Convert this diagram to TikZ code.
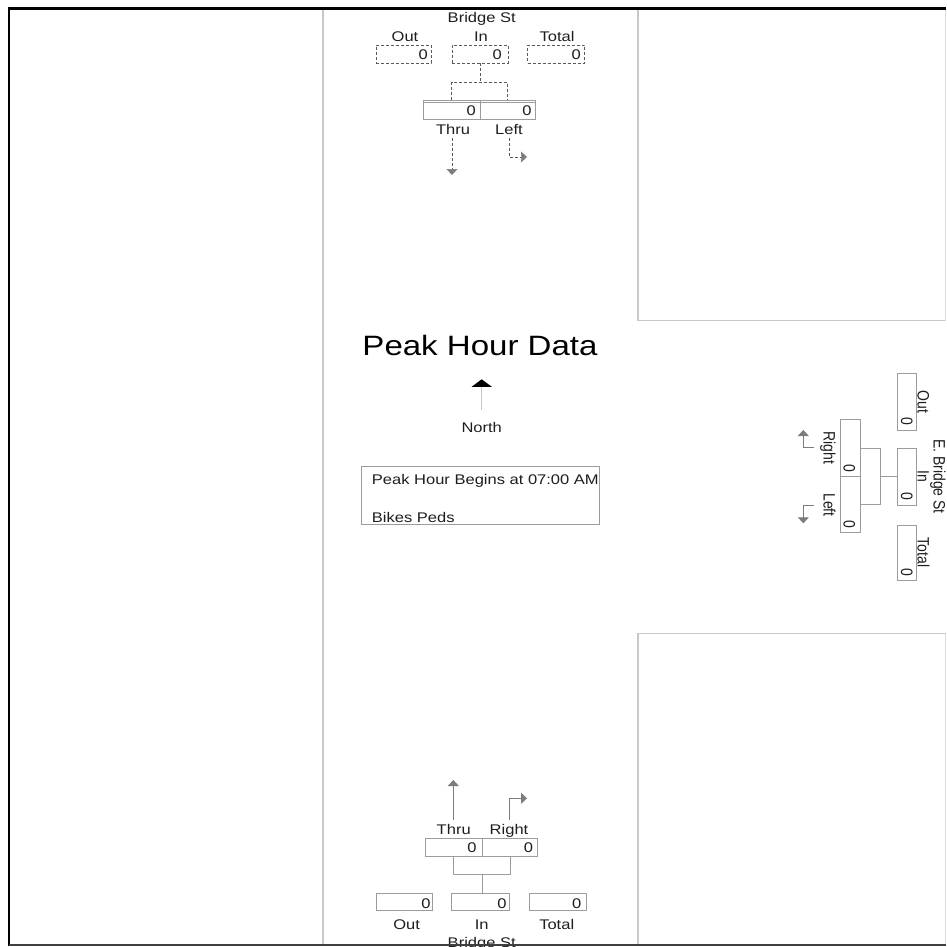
\documentclass[tikz,border=0pt]{standalone}
\usepackage{fontspec}
\setmainfont{Liberation Sans}
\usetikzlibrary{arrows.meta}
\definecolor{roadgray}{HTML}{C8C8C8}
\definecolor{boxgray}{HTML}{9C9C9C}
\definecolor{dashgray}{HTML}{5A5A5A}
\definecolor{arrgray}{HTML}{7C7C7C}
\definecolor{txtcol}{HTML}{1E1E1E}
\begin{document}
\begin{tikzpicture}[x=1pt,y=-1pt,
  lbl/.style={font=\fontsize{14}{16}\selectfont, text=txtcol, inner sep=0pt, xscale=1.18},
  ttl/.style={font=\fontsize{28}{32}\selectfont, text=black, inner sep=0pt, xscale=1.18},
  road/.style={draw=roadgray, line width=1.5pt},
  gbox/.style={draw=boxgray, line width=0.9pt, inner sep=0pt, fill=white},
  dbox/.style={draw=dashgray, line width=0.7pt, dash pattern=on 3pt off 2pt, inner sep=0pt},
  conn/.style={draw=boxgray, line width=0.9pt},
  dconn/.style={draw=dashgray, line width=0.7pt, dash pattern=on 3pt off 2pt},
  arr/.style={draw=arrgray, line width=0.9pt, -{Triangle[width=11pt,length=6pt,color=arrgray]}},
  darr/.style={dconn, -{Triangle[width=11pt,length=6pt,color=arrgray]}}
]
\useasboundingbox (0,0) rectangle (946,947);

% road edges
\draw[road] (323,9) -- (323,945);
\draw[road] (638,9) -- (638,320.5) -- (946,320.5);
\draw[road] (946,633.5) -- (638,633.5) -- (638,945);
\draw[draw=roadgray!60, line width=1pt] (945,9) -- (945,320.5);
\draw[draw=roadgray!60, line width=1pt] (945,633.5) -- (945,945);

% ---------------- North leg ----------------
\node[lbl, anchor=base] (nName) at (481.7,22.7) {Bridge St};
\node[lbl, anchor=base] (nOutL) at (405,41.7) {Out};
\node[lbl, anchor=base] (nInL) at (481,41.7) {In};
\node[lbl, anchor=base] (nTotL) at (557,41.7) {Total};
\node[dbox, minimum width=55pt, minimum height=18pt] (nOut) at (403.5,54) {};
\node[dbox, minimum width=56pt, minimum height=18pt] (nIn) at (480,54) {};
\node[dbox, minimum width=57pt, minimum height=18pt] (nTot) at (556,54) {};
\node[lbl, anchor=base east] (nOutV) at (428,59.3) {0};
\node[lbl, anchor=base east] (nInV) at (502,59.3) {0};
\node[lbl, anchor=base east] (nTotV) at (581,59.3) {0};
\node[gbox, minimum width=57pt, minimum height=19pt] (nThru) at (451.5,110) {};
\node[gbox, minimum width=55pt, minimum height=19pt] (nLeft) at (507.5,110) {};
\draw[conn] ([yshift=-2.5pt]nThru.north west) -- ([yshift=-2.5pt]nLeft.north east);
\node[lbl, anchor=base east] (nThruV) at (476,116) {0};
\node[lbl, anchor=base east] (nLeftV) at (531.7,116) {0};
\coordinate (nj) at (480,82.5);
\draw[dconn] (nIn.south) -- (nj);
\draw[dconn] (nThru.north) |- (nj) -| (nLeft.north);
\node[lbl, anchor=base] (nThruL) at (453,135) {Thru};
\node[lbl, anchor=base] (nLeftL) at (509,135) {Left};
\coordinate (nThruTip) at (452,175);
\coordinate (nLeftTip) at (527,157);
\draw[darr] ([yshift=-3pt]nThruL.south -| nThruTip) -- (nThruTip);
\draw[darr] ([yshift=-3pt]nLeftL.south) |- (nLeftTip);

% ---------------- South leg ----------------
\coordinate (sThruTip) at (453.3,780);
\coordinate (sRightTip) at (527,798.3);
\node[lbl, anchor=base] (sThruL) at (453.7,834) {Thru};
\node[lbl, anchor=base] (sRightL) at (509,834) {Right};
\draw[arr] ([yshift=4pt]sThruL.north -| sThruTip) -- (sThruTip);
\draw[arr] ([yshift=4pt]sRightL.north) |- (sRightTip);
\node[gbox, minimum width=57.7pt, minimum height=18pt] (sThru) at (453.8,847) {};
\node[gbox, minimum width=55pt, minimum height=18pt] (sRight) at (510.2,847) {};
\node[lbl, anchor=base east] (sThruV) at (476.7,852.3) {0};
\node[lbl, anchor=base east] (sRightV) at (533.3,852.3) {0};
\node[gbox, minimum width=56.7pt, minimum height=17.4pt] (sOut) at (404.3,902) {};
\node[gbox, minimum width=57.6pt, minimum height=17.4pt] (sIn) at (480.5,902) {};
\node[gbox, minimum width=57.4pt, minimum height=17.4pt] (sTot) at (558,902) {};
\coordinate (sj) at (482,874);
\draw[conn] (sThru.south) |- (sj) -| (sRight.south);
\draw[conn] (sj) -- (sIn.north -| sj);
\node[lbl, anchor=base east] (sOutV) at (430.7,908.3) {0};
\node[lbl, anchor=base east] (sInV) at (506.7,908.3) {0};
\node[lbl, anchor=base east] (sTotV) at (581.5,908.3) {0};
\node[lbl, anchor=base] (sOutL) at (406.7,929.3) {Out};
\node[lbl, anchor=base] (sInL) at (481.7,929.3) {In};
\node[lbl, anchor=base] (sTotL) at (556.7,929.3) {Total};
\node[lbl, anchor=base] (sName) at (481.7,947.5) {Bridge St};

% ---------------- East leg ----------------
\node[gbox, minimum width=19.4pt, minimum height=56.7pt] (eOut) at (907,401.7) {};
\node[gbox, minimum width=19.4pt, minimum height=57pt] (eIn) at (907,476.5) {};
\node[gbox, minimum width=19.4pt, minimum height=55pt] (eTot) at (907,552.5) {};
\node[lbl, rotate=-90, anchor=base east] (eOutV) at (901,425.5) {0};
\node[lbl, rotate=-90, anchor=base east] (eInV) at (901,500.5) {0};
\node[lbl, rotate=-90, anchor=base east] (eTotV) at (901,576) {0};
\node[lbl, rotate=-90, anchor=base] (eOutL) at (917.5,401.7) {Out};
\node[lbl, rotate=-90, anchor=base] (eInL) at (917.5,476.5) {In};
\node[lbl, rotate=-90, anchor=base] (eTotL) at (917.5,552.5) {Total};
\node[lbl, rotate=-90, anchor=base] (eName) at (933.5,476.5) {E. Bridge St};
\node[gbox, minimum width=20pt, minimum height=57.4pt] (eRight) at (850,448) {};
\node[gbox, minimum width=20pt, minimum height=56pt] (eLeft) at (850,504.7) {};
\node[lbl, rotate=-90, anchor=base east] (eRightV) at (843.5,472) {0};
\node[lbl, rotate=-90, anchor=base east] (eLeftV) at (843.5,528) {0};
\coordinate (ej) at (880,476.5);
\draw[conn] (eRight.east) -| (ej) |- (eLeft.east);
\draw[conn] (ej) -- (eIn.west);
\node[lbl, rotate=-90, anchor=base] (eRightL) at (823.5,448) {Right};
\node[lbl, rotate=-90, anchor=base] (eLeftL) at (823.5,505) {Left};
\coordinate (eRightTip) at (803.3,430);
\coordinate (eLeftTip) at (803.3,523.3);
\draw[arr] (814,447.5) -| (eRightTip);
\draw[arr] (814,505) -| (eLeftTip);

% ---------------- Centre ----------------
\node[ttl, anchor=base] (title) at (480,355) {Peak Hour Data};
\coordinate (northTip) at (481.7,379.3);
\node[lbl, anchor=base] (northL) at (481.7,432.3) {North};
\draw[draw=roadgray, line width=1.2pt, -{Triangle[width=20pt,length=7.5pt,color=black]}]
  ([yshift=12pt]northL.north) -- (northTip);
\node[gbox, minimum width=237.6pt, minimum height=57.3pt] (info) at (480.5,495.3) {};
\node[lbl, anchor=base west] (infoA) at (371.7,484) {Peak Hour Begins at 07:00 AM};
\node[lbl, anchor=base west] (infoB) at (371.7,522.7) {Bikes Peds};

% ---------------- Frame ----------------
\draw[draw=black, line width=2.6pt] (9,946) -- (9,8.7) -- (946,8.7);
\draw[draw=black!75, line width=2pt] (9,945) -- (946,945);
\end{tikzpicture}
\end{document}
